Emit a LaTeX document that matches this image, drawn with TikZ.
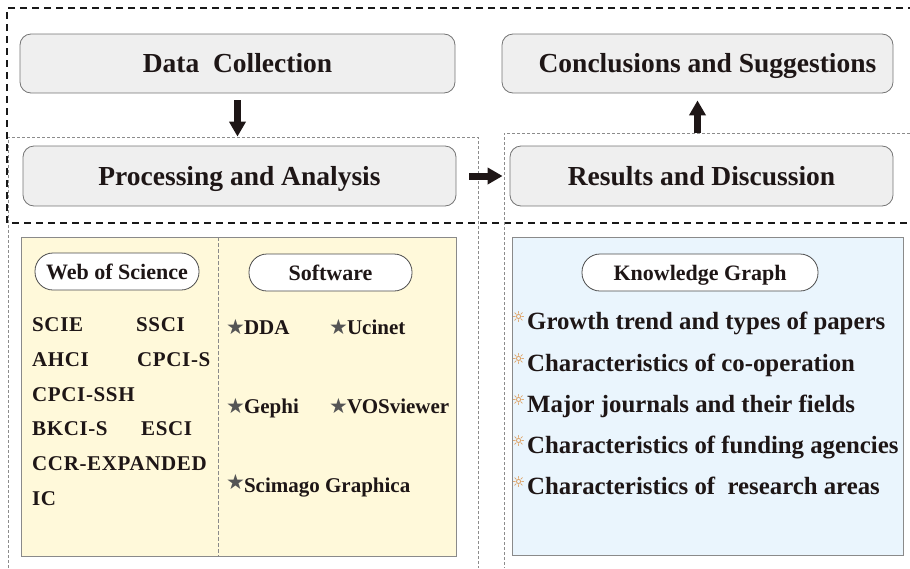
\documentclass[tikz,border=0pt]{standalone}
\usepackage{fontspec}
\setmainfont{Liberation Serif}
\newfontfamily\symfont{DejaVu Sans}
\newfontfamily\wideserif[LetterSpace=3]{Liberation Serif}
\usetikzlibrary{arrows.meta}
\definecolor{boxgray}{HTML}{EFEFEF}
\definecolor{boxline}{HTML}{747474}
\definecolor{ylw}{HTML}{FFF9DA}
\definecolor{blu}{HTML}{EAF5FD}
\definecolor{panelline}{HTML}{8A8A8A}
\definecolor{dotgray}{HTML}{8C8C8C}
\definecolor{stargray}{HTML}{555555}
\definecolor{sunorange}{HTML}{D98A3A}
\definecolor{ink}{HTML}{1E1616}
\tikzset{
  stagebox/.style={draw=boxline, fill=boxgray, line width=0.8pt, rounded corners=11pt,
    inner sep=0pt, text height=18pt, text depth=0pt, text=ink,
    font=\bfseries\fontsize{27.5}{27.5}\selectfont},
  pill/.style={draw=black!70, fill=white, line width=0.8pt, rounded corners=18pt,
    inner sep=0pt, minimum height=37pt, text height=15pt, text depth=0pt, text=ink,
    font=\bfseries\fontsize{22}{22}\selectfont},
  panelbox/.style={draw=panelline, line width=1pt, inner sep=0pt},
  item/.style={anchor=base west, inner sep=0pt, text=ink, font=\bfseries\fontsize{21}{21}\selectfont},
  witem/.style={anchor=base west, inner sep=0pt, text=ink, font=\wideserif\bfseries\fontsize{21}{21}\selectfont},
  kitem/.style={anchor=base west, inner sep=0pt, text=ink, font=\bfseries\fontsize{24.8}{24.8}\selectfont},
  sun/.style={inner sep=0pt, text=sunorange, font=\symfont\fontsize{15}{15}\selectfont},
  thickdash/.style={draw=black!90, line width=1.5pt, dash pattern=on 7pt off 5pt},
  thindot/.style={draw=dotgray, line width=0.9pt, dash pattern=on 3pt off 2pt},
  bigarrow/.style={draw=ink, line width=7pt, -{Triangle[width=16pt,length=15pt]}},
}
\newcommand{\gstar}{{\symfont\color{stargray}\fontsize{21}{21}\selectfont ★}}
\begin{document}
\begin{tikzpicture}[x=1pt,y=-1pt]
\useasboundingbox (0,0) rectangle (910,568);
% outer dashed frame
\draw[thickdash] (915,8) -- (7,8) -- (7,223) -- (915,223);
% thin dotted frames
\draw[thindot] (8,568) -- (8,137) -- (478,137) -- (478,568);
\draw[thindot] (915,133) -- (504,133) -- (504,568);
% stage boxes
\node[stagebox, minimum width=435pt, minimum height=59pt] (dc) at (237.5,63.5) {Data~~Collection};
\node[stagebox, minimum width=433pt, minimum height=60pt] (pa) at (239.5,176) {Processing and Analysis};
\node[stagebox, minimum width=391pt, minimum height=59pt] (cs) at (697.5,63.5) {\hspace*{20pt}Conclusions and Suggestions};
\node[stagebox, minimum width=383pt, minimum height=60pt] (rd) at (701.5,176) {Results and Discussion};
% arrows
\draw[bigarrow, shorten <=7pt, shorten >=9pt] (dc.south) -- (dc.south |- pa.north);
\draw[bigarrow, shorten <=13pt, shorten >=7pt] (pa.east) -- (rd.west);
\draw[bigarrow, shorten <=13pt, shorten >=7pt] (cs.south |- rd.north) -- (cs.south);
% panels
\node[panelbox, fill=ylw, minimum width=435pt, minimum height=319pt] (yp) at (238.5,396.5) {};
\draw[draw=panelline, line width=0.8pt, dash pattern=on 4pt off 2pt] (218,237) -- (218,556);
\node[panelbox, fill=blu, minimum width=391pt, minimum height=318pt] (bp) at (707.5,396) {};
% pills
\node[pill, minimum width=164pt] (wos) at (117,271.5) {Web of Science};
\node[pill, minimum width=163pt] (sw) at (330.5,272.5) {Software};
\node[pill, minimum width=236pt] (kg) at (700,272.5) {Knowledge Graph};
% Web of Science items
\node[witem] (i1) at (32,331) {SCIE};
\node[witem] (i2) at (136,331) {SSCI};
\node[witem] (i3) at (32,366) {AHCI};
\node[witem] (i4) at (137,366) {CPCI-S};
\node[witem] (i5) at (32,401) {CPCI-SSH};
\node[witem] (i6) at (32,435) {BKCI-S};
\node[witem] (i7) at (141,435) {ESCI};
\node[witem] (i8) at (32,470) {CCR-EXPANDED};
\node[witem] (i9) at (32,505) {IC};
% Software items
\node[item] (s1) at (226,334) {\gstar\hspace{-1pt}DDA};
\node[item] (s2) at (329,334) {\gstar\hspace{-1pt}Ucinet};
\node[item] (s3) at (226,413) {\gstar\hspace{-1pt}Gephi};
\node[item] (s4) at (329,413) {\gstar\hspace{-1pt}VOSviewer};
\node[item] (s5) at (226,492) {\raisebox{3pt}{\gstar}\hspace{-1pt}Scimago Graphica};
% Knowledge graph items
\foreach \y/\t [count=\k] in {329/Growth trend and types of papers,
  371/Characteristics of co-operation,
  412/Major journals and their fields,
  453/Characteristics of funding agencies,
  494/Characteristics of~~research areas}{
  \node[sun] (sun\k) at (518.5,\y-12) {☼};
  \node[kitem] (k\k) at (527,\y) {\t};
}
\end{tikzpicture}
\end{document}
